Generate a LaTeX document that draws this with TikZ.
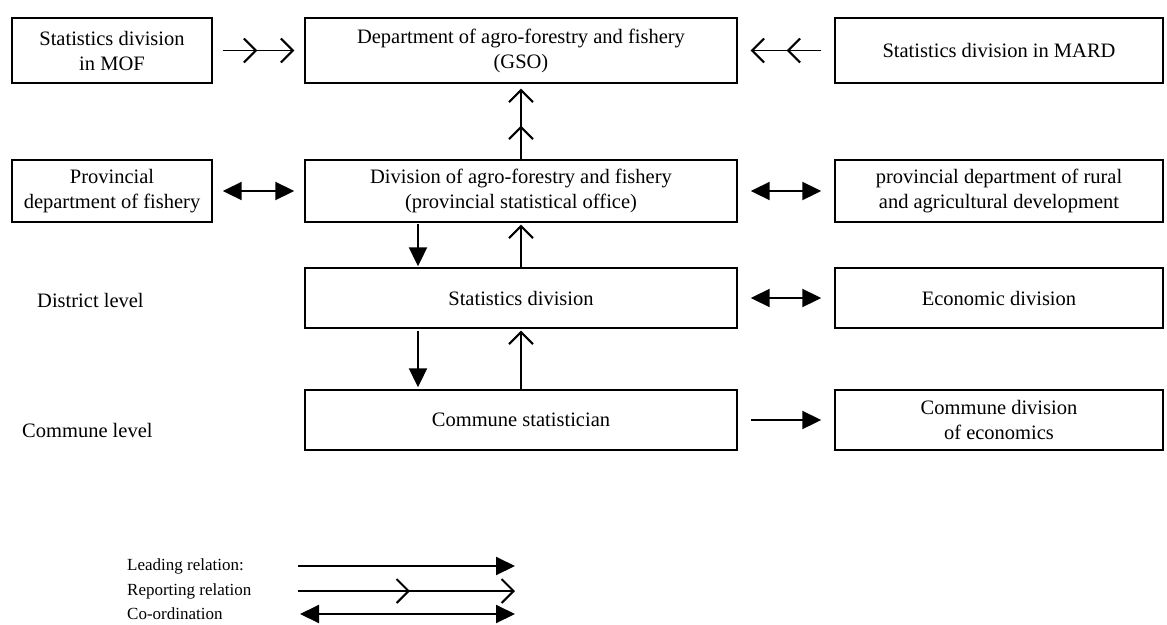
\documentclass[tikz,border=0pt]{standalone}
\usepackage{fontspec}
\setmainfont{Liberation Serif}
\usetikzlibrary{arrows.meta,calc}
\begin{document}
\begin{tikzpicture}[x=1pt,y=-1pt,
  box/.style={draw, line width=1.4pt, rectangle, inner sep=0pt, align=center,
    font=\fontsize{20.5}{25}\selectfont},
  colL/.style={box, minimum width=200pt},
  colM/.style={box, minimum width=432pt},
  colR/.style={box, minimum width=328pt},
  leadarr/.style={line width=2pt, -{Triangle[length=19pt,width=18pt]}},
  coordarr/.style={line width=2pt, {Triangle[length=19pt,width=18pt]}-{Triangle[length=19pt,width=18pt]}},
  reparr/.style={line width=1.8pt, -{Straight Barb[length=12pt,width=24pt,line width=2pt]}},
  lbl/.style={font=\fontsize{20.5}{25}\selectfont, anchor=west, inner sep=0pt},
  leg/.style={font=\fontsize{17}{21}\selectfont, anchor=west, inner sep=0pt},
]
\useasboundingbox (0,0) rectangle (1167,624);

% row 1
\node[colL, minimum height=65pt] (mof)  at (112,50.5) {Statistics division\\in MOF};
\node[colM, minimum height=65pt] (gso)  at (521,50.5) {Department of agro-forestry and fishery\\(GSO)};
\node[colR, minimum height=65pt] (mard) at (999,50.5) {Statistics division in MARD};
% row 2
\node[colL, minimum height=62pt] (pdf) at (112,191) {Provincial\\department of fishery};
\node[colM, minimum height=62pt] (div) at (521,191) {Division of agro-forestry and fishery\\(provincial statistical office)};
\node[colR, minimum height=62pt] (pdr) at (999,191) {provincial department of rural\\and agricultural development};
% row 3
\node[lbl] (dl) at (37,300) {District level};
\node[colM, minimum height=60pt] (sd) at (521,298) {Statistics division};
\node[colR, minimum height=60pt] (ed) at (999,298) {Economic division};
% row 4
\node[lbl] (cl) at (22,430) {Commune level};
\node[colM, minimum height=60pt] (cs) at (521,420) {Commune statistician};
\node[colR, minimum height=60pt] (cd) at (999,420) {Commune division\\of economics};

\coordinate (dx) at (418,0);

% reporting to GSO
\draw[reparr, shorten <=10pt, shorten >=10pt] (mof) -- (gso);
\draw[reparr, shorten <=10pt, shorten >=47pt] (mof) -- (gso);
\draw[reparr, shorten <=13pt, shorten >=13pt] (mard) -- (gso);
\draw[reparr, shorten <=13pt, shorten >=49pt] (mard) -- (gso);
\draw[reparr, shorten >=5pt] (div) -- (gso);
\draw[reparr, shorten >=42pt] (div) -- (gso);

% co-ordination
\draw[coordarr, shorten <=10pt, shorten >=10pt] (pdf) -- (div);
\draw[coordarr, shorten <=13pt, shorten >=13pt] (div) -- (pdr);
\draw[coordarr, shorten <=13pt, shorten >=13pt] (sd) -- (ed);
% leading
\draw[leadarr, shorten <=13pt, shorten >=13pt] (cs) -- (cd);

% vertical
\draw[leadarr, shorten <=1pt, shorten >=1pt] (div.south -| dx) -- (sd.north -| dx);
\draw[reparr, shorten >=2pt] (sd) -- (div);
\draw[leadarr, shorten <=2pt, shorten >=2pt] (sd.south -| dx) -- (cs.north -| dx);
\draw[reparr, shorten >=2pt] (cs) -- (sd);

% legend
\node[leg] (l1) at (127,566) {Leading relation:};
\node[leg] (l2) at (127,591) {Reporting relation};
\node[leg] (l3) at (127,614) {Co-ordination};
\coordinate (l1a) at (298,566); \coordinate (l1b) at (515,566);
\coordinate (l2a) at (298,591); \coordinate (l2b) at (515,591);
\coordinate (l3a) at (300,614); \coordinate (l3b) at (515,614);
\draw[leadarr] (l1a) -- (l1b);
\draw[reparr] (l2a) -- (l2b);
\draw[reparr, shorten >=105pt] (l2a) -- (l2b);
\draw[coordarr] (l3a) -- (l3b);
\end{tikzpicture}
\end{document}
